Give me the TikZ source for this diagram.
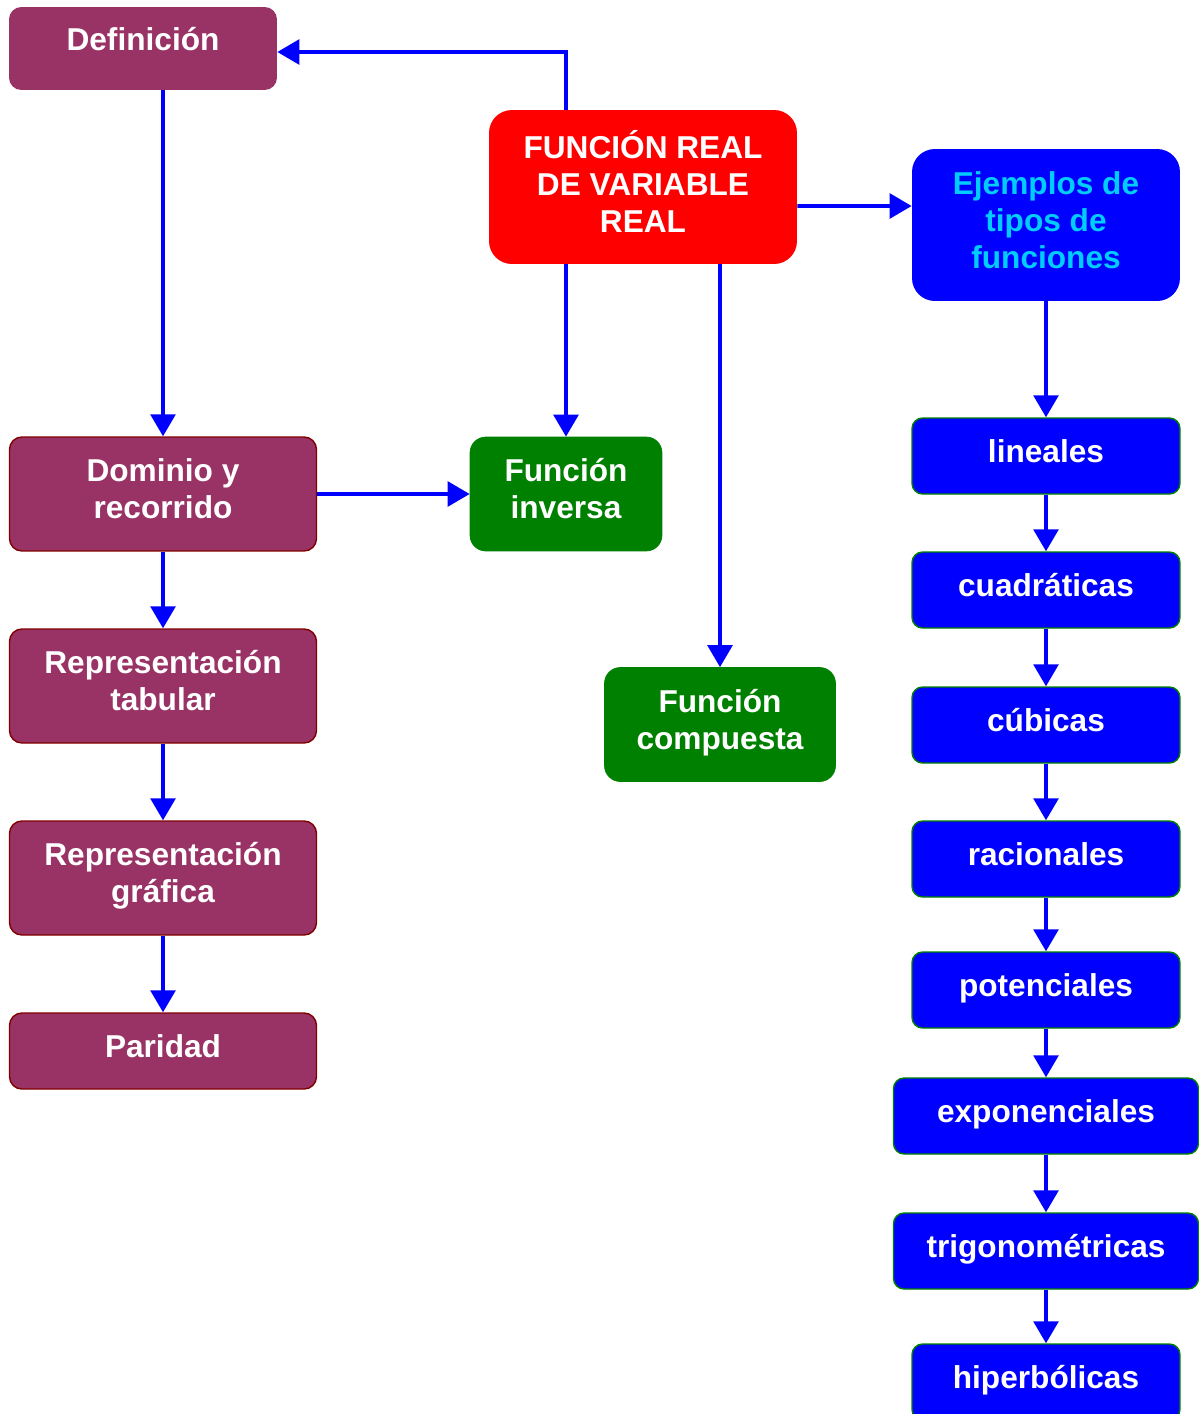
\documentclass[tikz,border=0pt]{standalone}
\usepackage{fontspec}
\setmainfont{Liberation Sans}
\usetikzlibrary{arrows.meta}
\usetikzlibrary{calc}

\definecolor{morado}{HTML}{993366}
\definecolor{granate}{HTML}{800000}
\definecolor{verde}{HTML}{008000}
\definecolor{celeste}{HTML}{00CCFF}

\tikzset{
  caja/.style={rectangle, align=center, text=white, inner sep=0pt, text depth=6pt,
    font=\fontsize{18}{21}\selectfont\bfseries},
  morada/.style={caja, fill=morado, draw=granate, line width=0.8pt, rounded corners=7pt,
    minimum width=6.14cm, minimum height=2.28cm},
  verdebox/.style={caja, fill=verde, draw=verde, rounded corners=9pt, minimum height=2.28cm},
  azul/.style={caja, fill=blue, draw=verde, line width=0.8pt, rounded corners=6pt,
    minimum width=5.36cm, minimum height=1.52cm},
  flecha/.style={draw=blue, line width=2.2pt, -{Triangle[length=12.5pt,width=14pt]}}
}

\begin{document}
\begin{tikzpicture}[x=0.02cm, y=-0.02cm]

\useasboundingbox (0,0) rectangle (1198,1414);

%position of the main box
\coordinate (C) at (643,187);

% main box
\node[caja, fill=red, rounded corners=13pt, minimum width=6.16cm, minimum height=3.08cm] (func) at (C)
  {FUNCIÓN REAL\\DE VARIABLE\\REAL};

% left column
\node[caja, fill=morado, rounded corners=7pt, minimum width=5.36cm, minimum height=1.66cm, text depth=11pt] (def)
  at (143,48.5) {Definición};
\node[morada] (dom) at (163,494) {Dominio y\\recorrido};
\node[morada] (tab) at (163,686) {Representación\\tabular};
\node[morada] (graf) at (163,878) {Representación\\gráfica};
\node[morada, minimum height=1.52cm] (par) at (163,1051) {Paridad};

% middle column
\node[verdebox, minimum width=3.84cm] (inv) at (566,494) {Función\\inversa};
\node[verdebox, minimum width=4.62cm] (comp) at (720,724.5) {Función\\compuesta};

% right column
\node[caja, fill=blue, rounded corners=13pt, text=celeste, minimum width=5.36cm, minimum height=3.04cm] (ej)
  at (1046,225) {Ejemplos de\\tipos de\\funciones};
\node[azul] (lin) at (1046,456) {lineales};
\node[azul] (cuad) at (1046,590) {cuadráticas};
\node[azul] (cub) at (1046,725) {cúbicas};
\node[azul] (rac) at (1046,859) {racionales};
\node[azul] (pot) at (1046,990) {potenciales};
\node[azul, minimum width=6.1cm] (expo) at (1046,1116) {exponenciales};
\node[azul, minimum width=6.1cm] (trig) at (1046,1251) {trigonométricas};
\node[azul] (hip) at (1046,1382) {hiperbólicas};

% arrows from the main box
\draw[flecha] (func.north -| inv) |- ([yshift=-0.07cm]def.east);
\draw[flecha] (func.south -| inv) -- (inv.north);
\draw[flecha] (func.south -| comp) -- (comp.north);
\draw[flecha] ([yshift=-0.38cm]func.east) -- ([yshift=0.38cm]ej.west);

% left chain
\draw[flecha] (def.south -| dom) -- (dom.north);
\draw[flecha] (dom.east) -- (inv.west);
\draw[flecha] (dom.south) -- (tab.north);
\draw[flecha] (tab.south) -- (graf.north);
\draw[flecha] (graf.south) -- (par.north);

% right chain
\draw[flecha] (ej.south) -- (lin.north);
\draw[flecha] (lin.south) -- (cuad.north);
\draw[flecha] (cuad.south) -- (cub.north);
\draw[flecha] (cub.south) -- (rac.north);
\draw[flecha] (rac.south) -- (pot.north);
\draw[flecha] (pot.south) -- (expo.north);
\draw[flecha] (expo.south) -- (trig.north);
\draw[flecha] (trig.south) -- (hip.north);

\end{tikzpicture}
\end{document}
